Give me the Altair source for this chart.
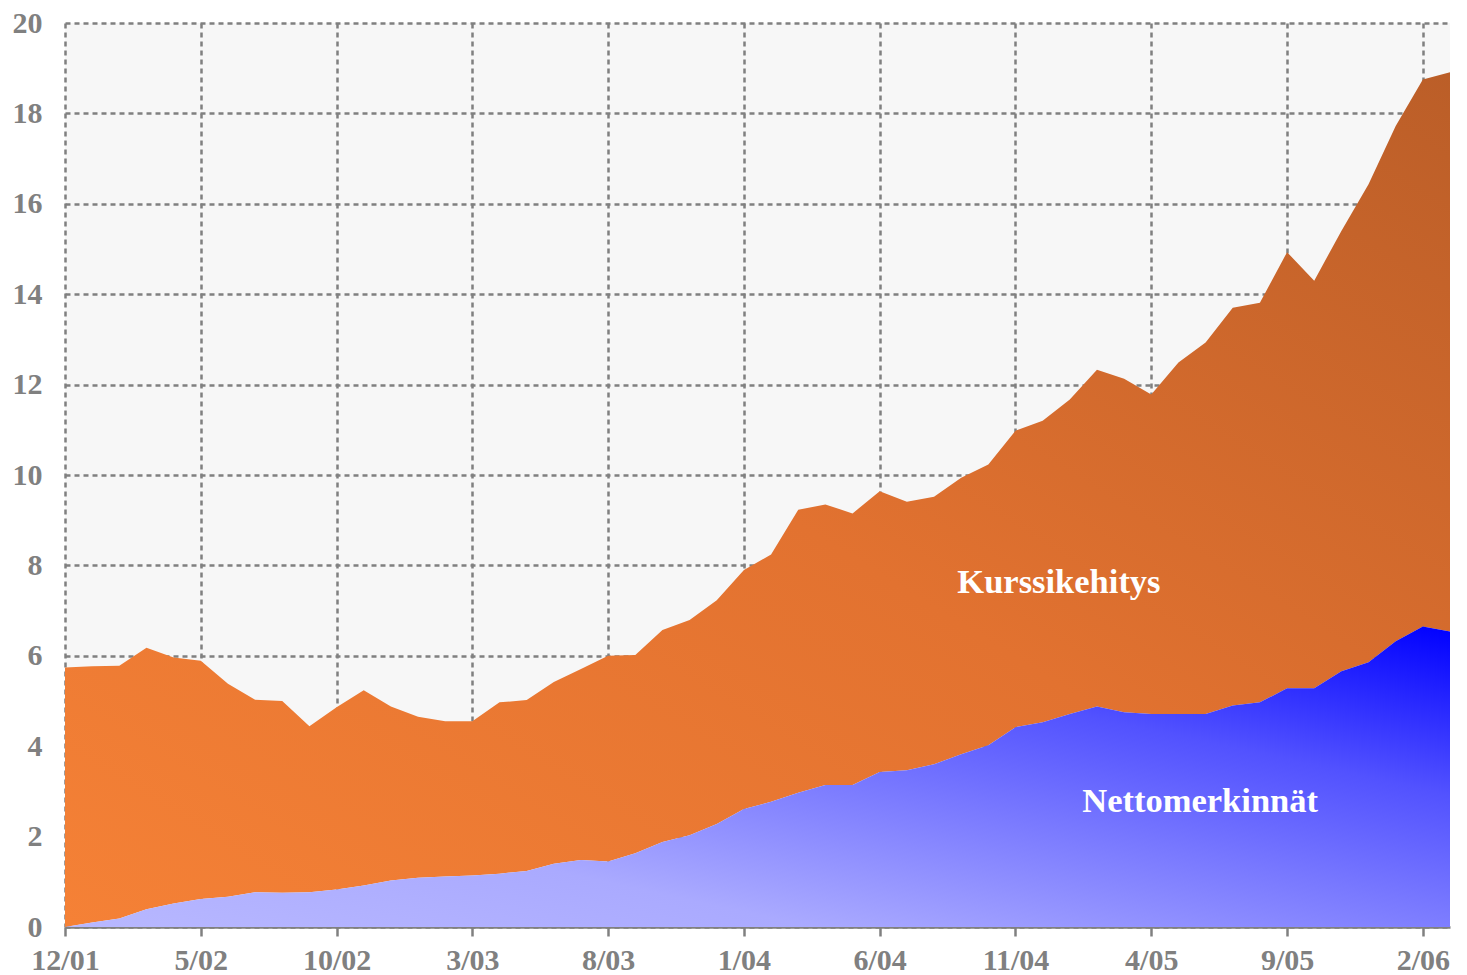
import altair as alt
import pandas as pd

# month index 0 = 12/01 ... 51 = 3/06
months = list(range(52))

netto = [0.00, 0.10, 0.19, 0.39, 0.52, 0.62, 0.67, 0.77, 0.76, 0.77,
         0.83, 0.92, 1.03, 1.09, 1.12, 1.14, 1.18, 1.24, 1.40, 1.48,
         1.45, 1.63, 1.88, 2.03, 2.28, 2.61, 2.77, 2.97, 3.14, 3.14,
         3.43, 3.47, 3.60, 3.82, 4.02, 4.42, 4.53, 4.71, 4.88, 4.75,
         4.71, 4.71, 4.71, 4.90, 4.97, 5.28, 5.28, 5.66, 5.86, 6.32,
         6.65, 6.54]

total = [5.74, 5.77, 5.78, 6.18, 5.96, 5.89, 5.38, 5.03, 5.00, 4.44,
         4.86, 5.24, 4.88, 4.65, 4.55, 4.55, 4.97, 5.02, 5.42, 5.71,
         6.00, 6.02, 6.57, 6.79, 7.23, 7.90, 8.24, 9.23, 9.35, 9.15,
         9.64, 9.41, 9.52, 9.94, 10.23, 10.98, 11.20, 11.67, 12.33, 12.13,
         11.78, 12.49, 12.93, 13.70, 13.81, 14.93, 14.30, 15.40, 16.43, 17.72,
         18.75, 18.91]

tick_pos = [0, 5, 10, 15, 20, 25, 30, 35, 40, 45, 50]
tick_labels = ["12/01", "5/02", "10/02", "3/03", "8/03", "1/04",
               "6/04", "11/04", "4/05", "9/05", "2/06"]
y_ticks = [0, 2, 4, 6, 8, 10, 12, 14, 16, 18, 20]

label_names = ["Kurssikehitys", "Nettomerkinnät"]
label_x = [36.6, 41.8]
label_y = [7.62, 2.76]

df = pd.DataFrame({"m": months, "netto": netto, "total": total})
lab = pd.DataFrame({"name": label_names, "lx": label_x, "ly": label_y})

FONT = "Liberation Serif"
GRAY = "#808080"

label_expr = "[" + ",".join(f"'{t}'" for t in tick_labels) + "][round(datum.value/5)]"

x_enc = alt.X(
    "m:Q",
    scale=alt.Scale(domain=[0, 51], nice=False, zero=False),
    axis=alt.Axis(
        values=tick_pos, labelExpr=label_expr, title=None,
        grid=True, gridColor=GRAY, gridDash=[5, 4], gridWidth=2.5, gridOpacity=1,
        domain=True, domainColor=GRAY, domainWidth=2.5,
        ticks=True, tickColor=GRAY, tickWidth=2.5, tickSize=9,
        labelFont=FONT, labelFontWeight="bold", labelFontSize=30,
        labelColor=GRAY, labelPadding=9, labelFlush=False,
    ),
)

y_axis = alt.Axis(
    values=y_ticks, title=None,
    grid=True, gridColor=GRAY, gridDash=[5, 4], gridWidth=2.5, gridOpacity=1,
    domain=False, ticks=False, tickSize=0,
    labelFont=FONT, labelFontWeight="bold", labelFontSize=30,
    labelColor=GRAY, labelPadding=23,
)
y_scale = alt.Scale(domain=[0, 20], nice=False)

orange_grad = alt.Gradient(
    gradient="linear",
    stops=[alt.GradientStop(color="#f58136", offset=0),
           alt.GradientStop(color="#e27230", offset=0.5),
           alt.GradientStop(color="#bb5e28", offset=1)],
    x1=0, y1=1, x2=1, y2=0,
)
blue_grad = alt.Gradient(
    gradient="linear",
    stops=[alt.GradientStop(color="#b8b8ff", offset=0),
           alt.GradientStop(color="#aaaaff", offset=0.27),
           alt.GradientStop(color="#7878ff", offset=0.53),
           alt.GradientStop(color="#5252ff", offset=0.72),
           alt.GradientStop(color="#0000ff", offset=1)],
    x1=0, y1=1, x2=1, y2=0,
)

orange = alt.Chart(df).mark_area(color=orange_grad, opacity=1).encode(
    x=x_enc,
    y=alt.Y("total:Q", scale=y_scale, axis=y_axis),
    y2="netto:Q",
)

blue = alt.Chart(df).mark_area(color=blue_grad, opacity=1).encode(
    x=alt.X("m:Q"),
    y=alt.Y("netto:Q"),
    y2=alt.datum(0),
)

text = alt.Chart(lab).mark_text(
    font=FONT, fontWeight="bold", fontSize=34.5, color="white",
    align="center", baseline="middle",
).encode(
    x=alt.X("lx:Q"),
    y=alt.Y("ly:Q"),
    text="name:N",
)

chart = (
    alt.layer(orange, blue, text)
    .properties(
        width=1385, height=904,
        autosize=alt.AutoSizeParams(type="none"),
        padding={"left": 57, "top": 15, "right": 9, "bottom": 48},
        background="white",
    )
    .configure_view(fill="#f7f7f7", stroke=None)
)

chart.save("out.html", embed_options={"renderer": "svg", "actions": False})
